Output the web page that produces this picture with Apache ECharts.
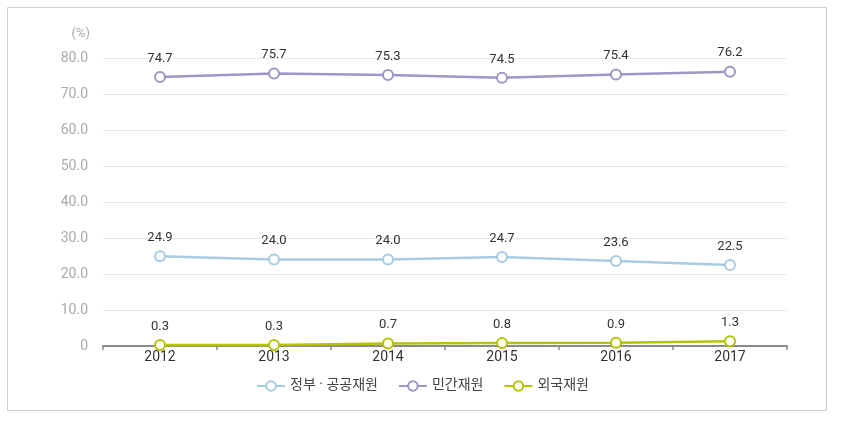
<!DOCTYPE html>
<html>
<head>
<meta charset="utf-8">
<script src="https://cdn.jsdelivr.net/npm/echarts@6/dist/echarts.min.js"></script>
<style>
  html, body { margin: 0; padding: 0; background: #fff; }
  #chart { width: 845px; height: 421px; }
</style>
</head>
<body>
<div id="chart"></div>
<script>
const years = ["2012", "2013", "2014", "2015", "2016", "2017"];
const govPublic = [24.9, 24.0, 24.0, 24.7, 23.6, 22.5];
const privateFunds = [74.7, 75.7, 75.3, 74.5, 75.4, 76.2];
const foreignFunds = [0.3, 0.3, 0.7, 0.8, 0.9, 1.3];
const seriesNames = ["정부 · 공공재원", "민간재원", "외국재원"];
const colors = ["#a7cbe0", "#9f95c6", "#b6c300"];

const chart = echarts.init(document.getElementById("chart"));
const font = "Roboto, 'Noto Sans CJK KR', sans-serif";

const makeSeries = (name, data, color) => ({
    name: name,
    type: "line",
    data: data,
    symbol: "emptyCircle",
    symbolSize: 10,
    lineStyle: {color: color, width: 2.5},
    itemStyle: {color: color, borderWidth: 2.5, borderColor: color},
    label: {
        show: true,
        position: "top",
        distance: 6,
        color: "#333",
        fontSize: 13,
        fontFamily: font,
        formatter: (p) => p.value.toFixed(1),
    },
    emphasis: {disabled: true},
});

chart.setOption({
    animation: false,
    backgroundColor: "#fff",
    textStyle: {fontFamily: font},
    graphic: [{
        type: "rect",
        shape: {x: 7.5, y: 7.5, width: 819, height: 403},
        style: {fill: "none", stroke: "#cfcfcf", lineWidth: 1},
    }],
    grid: {left: 103, right: 58, top: 58, bottom: 75},
    legend: {
        top: 374,
        left: "center",
        itemWidth: 28,
        itemHeight: 12,
        itemGap: 20,
        textStyle: {color: "#444", fontSize: 14, fontFamily: font},
        data: seriesNames,
    },
    xAxis: {
        type: "category",
        data: years,
        boundaryGap: true,
        axisLine: {lineStyle: {color: "#8a8a8a", width: 2}},
        axisTick: {show: true, length: 4, lineStyle: {color: "#8a8a8a", width: 1.5}},
        axisLabel: {color: "#333", fontSize: 14, margin: 5},
        splitLine: {show: false},
    },
    yAxis: {
        type: "value",
        min: 0,
        max: 80,
        interval: 10,
        name: "(%)",
        nameLocation: "end",
        nameGap: 18,
        nameTextStyle: {color: "#aaa", fontSize: 13, align: "right", padding: [0, 13, 0, 0]},
        axisLine: {show: false},
        axisTick: {show: false},
        axisLabel: {
            color: "#aaa",
            fontSize: 14,
            margin: 15,
            formatter: (v) => (v === 0 ? "0" : v.toFixed(1)),
        },
        splitLine: {lineStyle: {color: "#e6e6e6", width: 1}},
    },
    series: [
        makeSeries(seriesNames[0], govPublic, colors[0]),
        makeSeries(seriesNames[1], privateFunds, colors[1]),
        makeSeries(seriesNames[2], foreignFunds, colors[2]),
    ],
});
</script>
</body>
</html>
